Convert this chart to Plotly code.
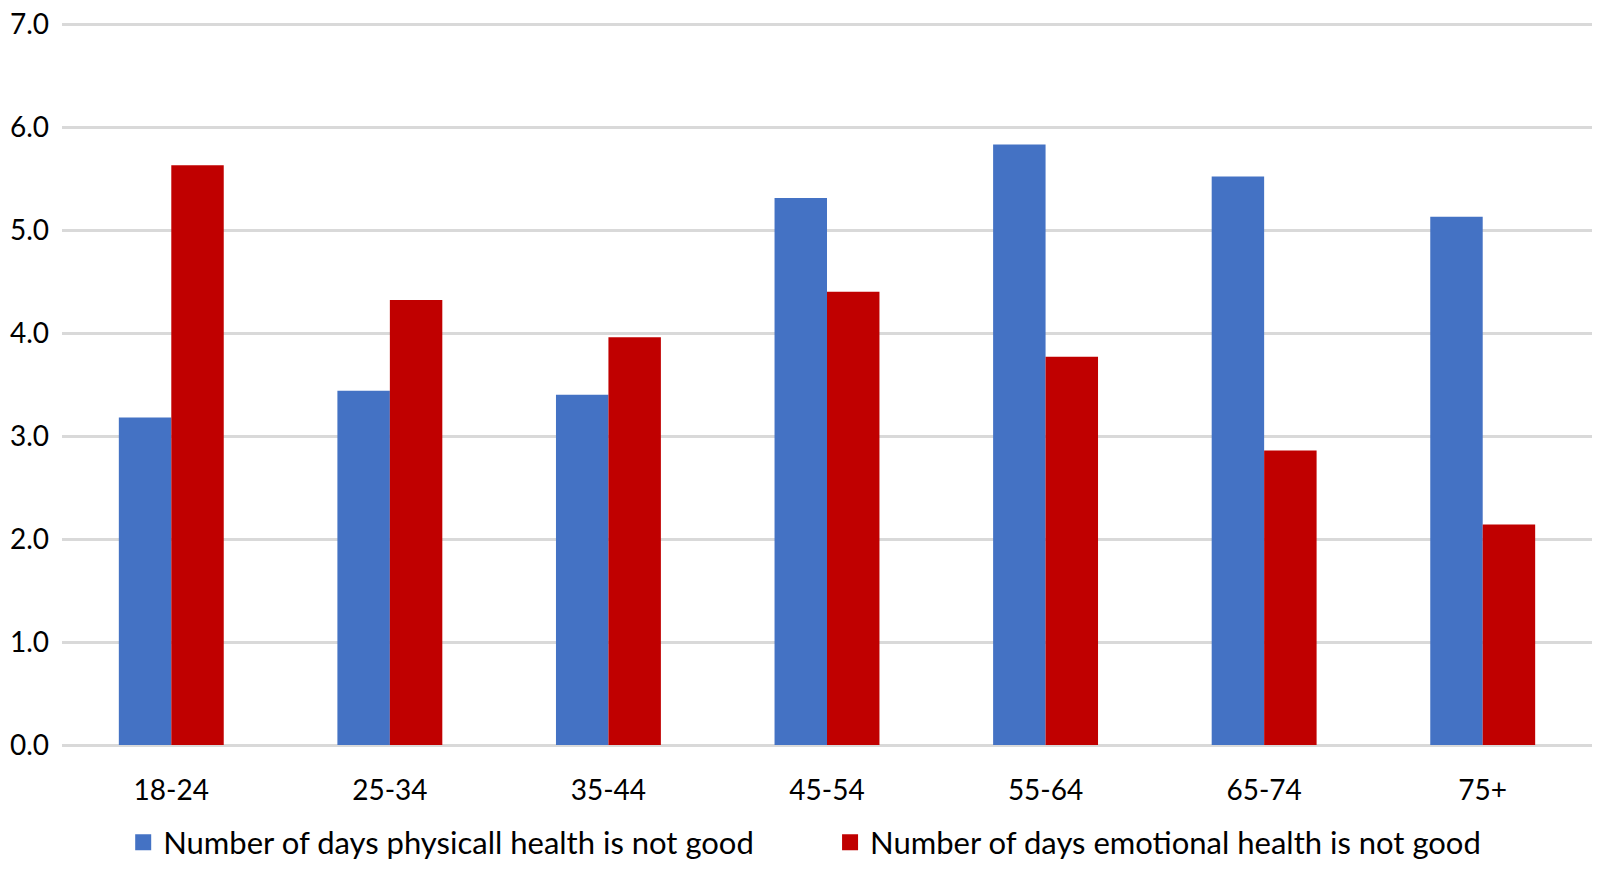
import plotly.graph_objects as go

categories = ["18-24", "25-34", "35-44", "45-54", "55-64", "65-74", "75+"]
physical_days = [3.18, 3.44, 3.40, 5.31, 5.83, 5.52, 5.13]
emotional_days = [5.63, 4.32, 3.96, 4.40, 3.77, 2.86, 2.14]
series_names = ["Number of days physicall health is not good",
                "Number of days emotional health is not good"]
y_ticks = [0, 1, 2, 3, 4, 5, 6, 7]

BLUE = "#4472C4"
RED = "#C00000"
FONT = "Lato"

fig = go.Figure()
fig.add_trace(go.Bar(x=categories, y=physical_days, name=series_names[0],
                     marker=dict(color=BLUE, line=dict(width=0)), showlegend=False))
fig.add_trace(go.Bar(x=categories, y=emotional_days, name=series_names[1],
                     marker=dict(color=RED, line=dict(width=0)), showlegend=False))
# legend entries with larger square swatches
fig.add_trace(go.Scatter(x=[None], y=[None], mode="markers", name=series_names[0],
                         marker=dict(symbol="square", size=18, color=BLUE), legend="legend"))
fig.add_trace(go.Scatter(x=[None], y=[None], mode="markers", name=series_names[1],
                         marker=dict(symbol="square", size=18, color=RED), legend="legend2"))

fig.update_layout(
    width=1584, height=856,
    margin=dict(l=54, r=0, t=14, b=119, autoexpand=False),
    paper_bgcolor="white", plot_bgcolor="white",
    barmode="group", bargap=0.52, bargroupgap=0,
    font=dict(family=FONT, size=28, color="#000000"),
    legend=dict(orientation="h", x=0.040, y=-0.135, xanchor="left", yanchor="middle",
                font=dict(family=FONT, size=31), bgcolor="rgba(0,0,0,0)"),
    legend2=dict(orientation="h", x=0.502, y=-0.135, xanchor="left", yanchor="middle",
                 font=dict(family=FONT, size=31), bgcolor="rgba(0,0,0,0)"),
    xaxis=dict(showgrid=False, showline=False, zeroline=False, ticks="", automargin=False,
               ticklabelstandoff=26, tickfont=dict(family=FONT, size=28)),
    yaxis=dict(range=[0, 7.02], tickvals=y_ticks, tickformat=".1f", automargin=False,
               showgrid=True, gridcolor="#D9D9D9", gridwidth=2.5,
               zeroline=True, zerolinecolor="#D9D9D9", zerolinewidth=2.5,
               showline=False, ticks="", ticklabelstandoff=12, ticklabeloverflow="allow",
               tickfont=dict(family=FONT, size=28)),
)
fig.update_xaxes(range=[-0.5, 6.5])

fig.write_html("out.html")
